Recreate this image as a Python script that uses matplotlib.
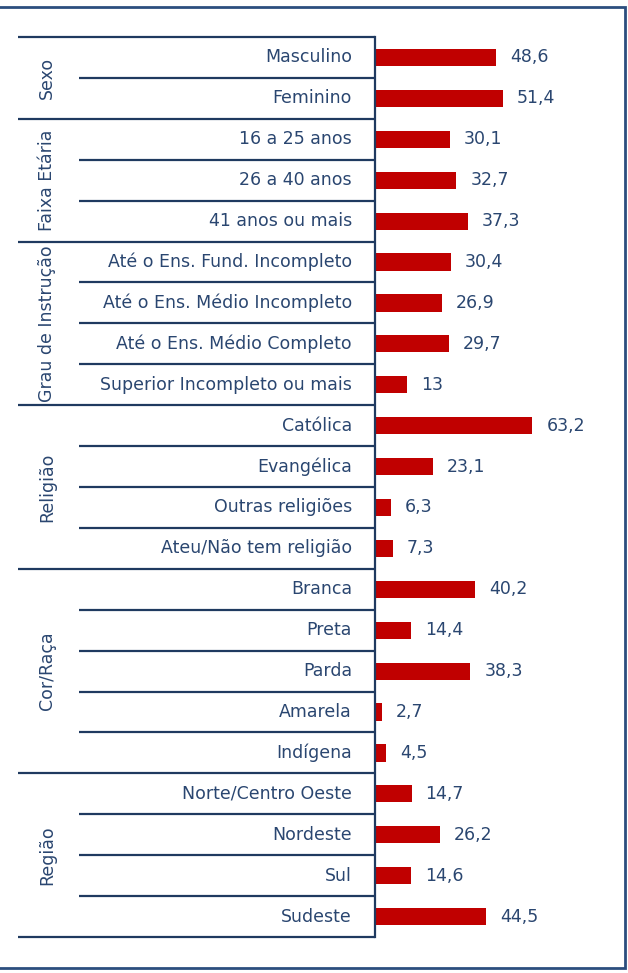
import matplotlib.pyplot as plt
import matplotlib.transforms as mtransforms
from matplotlib.patches import Rectangle

# perfil da amostra (%)
categorias = ["Masculino", "Feminino",
              "16 a 25 anos", "26 a 40 anos", "41 anos ou mais",
              "Até o Ens. Fund. Incompleto", "Até o Ens. Médio Incompleto",
              "Até o Ens. Médio Completo", "Superior Incompleto ou mais",
              "Católica", "Evangélica", "Outras religiões", "Ateu/Não tem religião",
              "Branca", "Preta", "Parda", "Amarela", "Indígena",
              "Norte/Centro Oeste", "Nordeste", "Sul", "Sudeste"]
valores = [48.6, 51.4,
           30.1, 32.7, 37.3,
           30.4, 26.9, 29.7, 13,
           63.2, 23.1, 6.3, 7.3,
           40.2, 14.4, 38.3, 2.7, 4.5,
           14.7, 26.2, 14.6, 44.5]
grupos = ["Sexo", "Faixa Etária", "Grau de Instrução", "Religião", "Cor/Raça", "Região"]
tamanhos = [2, 3, 4, 4, 5, 4]

AZUL = "#1f3a60"
TEXTO = "#2a4670"
VERMELHO = "#c00000"
FS = 12.5

plt.rcParams['font.family'] = ['DejaVu Sans']

fig = plt.figure(figsize=(6.28, 9.73), dpi=100)
W, H = 628, 973

# moldura
fig.patches.append(Rectangle((-0.01, 1 - 968 / H), 1 + 0.01 - 3 / W, (968 - 7) / H,
                             transform=fig.transFigure, fill=False,
                             edgecolor="#2c4e7e", lw=2))

x0, x1 = 375, 625
ax = fig.add_axes([x0 / W, 1 - 937 / H, (x1 - x0) / W, 900 / H])
n = len(categorias)
pos = [i + 0.5 for i in range(n)]
ax.barh(pos, valores, height=0.42, color=VERMELHO, left=0)
ax.set_xlim(0, (x1 - x0) / 2.49)
ax.set_ylim(n, 0)
ax.axis("off")

def fx(px):
    return (px - x0) / (x1 - x0)

trans = mtransforms.blended_transform_factory(ax.transAxes, ax.transData)

# eixo vertical
ax.plot([0, 0], [0, n], color=AZUL, lw=1.6, transform=trans, clip_on=False)

for y, cat, v in zip(pos, categorias, valores):
    ax.text(fx(352), y, cat, ha="right", va="center", fontsize=FS,
            color=TEXTO, transform=trans)
    txt = f"{v:g}".replace(".", ",")
    ax.annotate(txt, (v, y), xytext=(10, 0), textcoords="offset points",
                ha="left", va="center", fontsize=FS, color=TEXTO)

# linhas separadoras
ax.hlines(0, fx(18), 0, color=AZUL, lw=1.6, transform=trans, clip_on=False)
inicio = 0
for g, t in zip(grupos, tamanhos):
    for k in range(1, t):
        ax.hlines(inicio + k, fx(79), 0, color=AZUL, lw=1.6,
                  transform=trans, clip_on=False)
    fim = inicio + t
    ax.hlines(fim, fx(18), 0, color=AZUL, lw=1.6, transform=trans, clip_on=False)
    ax.text(fx(47), (inicio + fim) / 2, g, rotation=90, ha="center", va="center",
            fontsize=FS, color=TEXTO, transform=trans)
    inicio = fim

fig.savefig("out.png", dpi=100)
